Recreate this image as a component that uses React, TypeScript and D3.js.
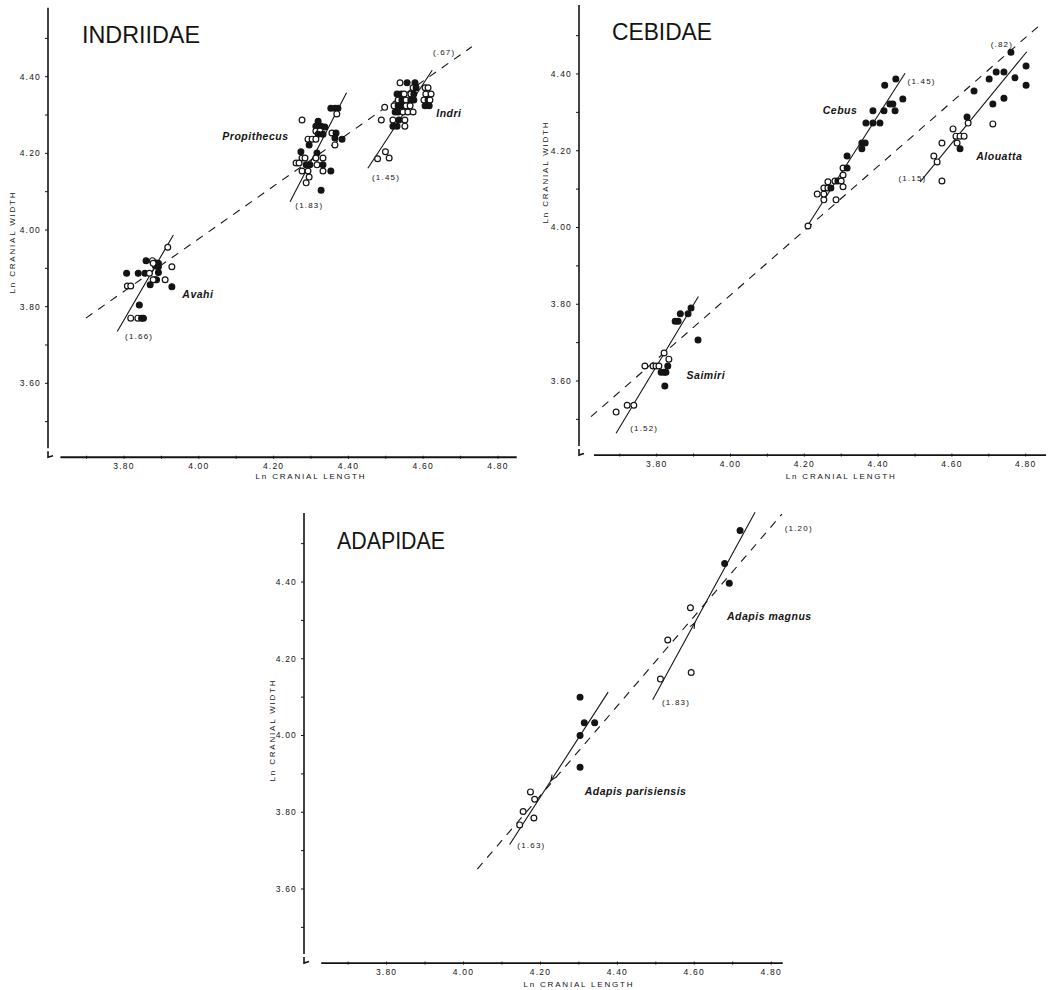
import React from "react";
import * as d3 from "d3";

// each point: [ln cranial length, ln cranial width, 1 = filled / 0 = open]
type Pt = [number, number, number];
type Seg = [number, number, number, number];

const avahi: Pt[] = [
  [3.917, 3.955, 0], [3.859, 3.92, 1], [3.876, 3.92, 0], [3.886, 3.914, 1],
  [3.892, 3.913, 1], [3.884, 3.906, 1], [3.892, 3.904, 1], [3.878, 3.913, 0],
  [3.928, 3.904, 0], [3.807, 3.887, 1], [3.838, 3.887, 1], [3.856, 3.887, 1],
  [3.868, 3.887, 0], [3.892, 3.889, 1], [3.887, 3.87, 1], [3.883, 3.87, 1],
  [3.878, 3.87, 0], [3.91, 3.87, 0], [3.87, 3.857, 1], [3.809, 3.854, 0],
  [3.818, 3.854, 0], [3.928, 3.852, 1], [3.841, 3.804, 1], [3.818, 3.77, 0],
  [3.837, 3.77, 0], [3.847, 3.77, 1], [3.852, 3.77, 1],
];

const propithecus: Pt[] = [
  [4.276, 4.287, 0], [4.319, 4.284, 1], [4.313, 4.271, 1], [4.327, 4.271, 1],
  [4.337, 4.269, 1], [4.353, 4.318, 1], [4.364, 4.318, 1], [4.372, 4.318, 1],
  [4.369, 4.303, 0], [4.313, 4.258, 0], [4.324, 4.258, 0], [4.319, 4.25, 1],
  [4.332, 4.25, 1], [4.292, 4.237, 0], [4.303, 4.237, 0], [4.313, 4.237, 0],
  [4.295, 4.222, 1], [4.356, 4.253, 0], [4.367, 4.253, 1], [4.364, 4.24, 1],
  [4.364, 4.222, 0], [4.383, 4.237, 1], [4.273, 4.204, 1], [4.316, 4.201, 1],
  [4.276, 4.188, 0], [4.284, 4.188, 0], [4.313, 4.188, 0], [4.332, 4.188, 0],
  [4.26, 4.175, 0], [4.268, 4.175, 0], [4.287, 4.17, 1], [4.297, 4.17, 1],
  [4.316, 4.17, 0], [4.332, 4.17, 1], [4.276, 4.154, 0], [4.292, 4.154, 0],
  [4.332, 4.154, 0], [4.353, 4.154, 1], [4.295, 4.138, 0], [4.287, 4.123, 0],
  [4.327, 4.104, 1],
];

const indri: Pt[] = [
  [4.538, 4.384, 0], [4.557, 4.384, 1], [4.578, 4.384, 1],
  [4.573, 4.371, 0], [4.581, 4.371, 1], [4.605, 4.371, 0], [4.613, 4.371, 0],
  [4.53, 4.355, 1], [4.541, 4.355, 1], [4.549, 4.355, 0], [4.567, 4.355, 0],
  [4.575, 4.355, 1], [4.607, 4.355, 0], [4.621, 4.355, 0],
  [4.533, 4.339, 0], [4.543, 4.339, 1], [4.554, 4.339, 0], [4.567, 4.339, 1],
  [4.575, 4.339, 1], [4.602, 4.339, 0], [4.613, 4.339, 1], [4.618, 4.339, 0],
  [4.522, 4.324, 0], [4.533, 4.324, 1], [4.543, 4.324, 1], [4.554, 4.324, 0],
  [4.565, 4.324, 0], [4.605, 4.324, 1], [4.616, 4.324, 1],
  [4.525, 4.308, 1], [4.533, 4.308, 1], [4.546, 4.308, 0], [4.559, 4.308, 0],
  [4.573, 4.308, 0], [4.488, 4.287, 0], [4.519, 4.287, 0], [4.535, 4.287, 1],
  [4.551, 4.287, 0], [4.519, 4.271, 1], [4.53, 4.271, 1], [4.551, 4.271, 0],
  [4.497, 4.32, 0], [4.478, 4.186, 0], [4.499, 4.204, 0], [4.509, 4.188, 0],
];

const saimiri: Pt[] = [
  [3.69, 3.519, 0], [3.72, 3.537, 0], [3.738, 3.537, 0], [3.768, 3.639, 0],
  [3.79, 3.639, 0], [3.798, 3.639, 0], [3.806, 3.639, 0], [3.82, 3.673, 0],
  [3.833, 3.657, 0], [3.83, 3.639, 1], [3.812, 3.623, 1], [3.82, 3.623, 1],
  [3.825, 3.623, 1], [3.822, 3.587, 1], [3.85, 3.756, 1], [3.858, 3.756, 1],
  [3.864, 3.775, 1], [3.885, 3.775, 1], [3.893, 3.79, 1], [3.912, 3.707, 1],
];

const cebus: Pt[] = [
  [4.21, 4.004, 0], [4.235, 4.087, 0], [4.253, 4.072, 0], [4.253, 4.087, 0],
  [4.253, 4.103, 0], [4.264, 4.119, 0], [4.264, 4.103, 0], [4.272, 4.103, 1],
  [4.286, 4.072, 0], [4.283, 4.121, 0], [4.291, 4.121, 1], [4.3, 4.121, 0],
  [4.305, 4.137, 0], [4.305, 4.155, 0], [4.305, 4.106, 0], [4.316, 4.155, 1],
  [4.316, 4.186, 1], [4.356, 4.205, 1], [4.356, 4.22, 1], [4.365, 4.22, 1],
  [4.367, 4.272, 1], [4.386, 4.272, 1], [4.405, 4.272, 1], [4.386, 4.304, 1],
  [4.416, 4.304, 1], [4.446, 4.304, 1], [4.432, 4.322, 1], [4.44, 4.322, 1],
  [4.467, 4.335, 1], [4.418, 4.371, 1], [4.448, 4.387, 1],
];

const alouatta: Pt[] = [
  [4.76, 4.457, 1], [4.701, 4.387, 1], [4.72, 4.405, 1], [4.741, 4.405, 1],
  [4.801, 4.421, 1], [4.771, 4.39, 1], [4.801, 4.371, 1], [4.66, 4.356, 1],
  [4.741, 4.337, 1], [4.711, 4.322, 1], [4.641, 4.288, 1], [4.644, 4.272, 0],
  [4.711, 4.27, 0], [4.603, 4.257, 0], [4.611, 4.238, 0], [4.622, 4.238, 0],
  [4.633, 4.238, 0], [4.614, 4.22, 0], [4.622, 4.205, 1], [4.573, 4.22, 0],
  [4.551, 4.186, 0], [4.56, 4.171, 0], [4.573, 4.121, 0],
];

const adapisParisiensis: Pt[] = [
  [4.303, 4.1, 1], [4.314, 4.033, 1], [4.341, 4.033, 1], [4.303, 4.0, 1],
  [4.303, 3.917, 1], [4.174, 3.853, 0], [4.185, 3.834, 0], [4.155, 3.802, 0],
  [4.183, 3.785, 0], [4.146, 3.767, 0],
];

const adapisMagnus: Pt[] = [
  [4.719, 4.534, 1], [4.679, 4.448, 1], [4.691, 4.397, 1], [4.59, 4.333, 0],
  [4.531, 4.249, 0], [4.512, 4.147, 0], [4.592, 4.164, 0],
];

// fitted lines, [x1, y1, x2, y2]
const avahiLine: Seg = [3.782, 3.735, 3.932, 3.987];
const propithecusLine: Seg = [4.244, 4.074, 4.395, 4.358];
const indriLine: Seg = [4.452, 4.161, 4.624, 4.417];
const indriidaeLine: Seg = [3.698, 3.77, 4.73, 4.478];

const saimiriLine: Seg = [3.69, 3.464, 3.913, 3.82];
const cebusLine: Seg = [4.207, 4.002, 4.473, 4.402];
const alouattaLine: Seg = [4.514, 4.119, 4.803, 4.458];
const cebidaeLine: Seg = [3.622, 3.507, 4.839, 4.528];

const parisiensisLine: Seg = [4.12, 3.716, 4.376, 4.113];
const magnusLine: Seg = [4.492, 4.093, 4.758, 4.582];
const adapidaeLine: Seg = [4.036, 3.652, 4.828, 4.577];

const xTickValues = [3.8, 4.0, 4.2, 4.4, 4.6, 4.8];
const yTickValues = [3.6, 3.8, 4.0, 4.2, 4.4];
const xMinorTicks = [3.7, 3.9, 4.1, 4.3, 4.5, 4.7];
const yMinorTicks = [3.5, 3.7, 3.9, 4.1, 4.3, 4.5];

// text notes placed at data coordinates
type Note = { text: string; at: [number, number]; kind: "name" | "slope" };
const indriidaeNotes: Note[] = [
  { text: "Propithecus", at: [4.063, 4.235], kind: "name" },
  { text: "Indri", at: [4.635, 4.296], kind: "name" },
  { text: "Avahi", at: [3.956, 3.822], kind: "name" },
  { text: "(1.66)", at: [3.803, 3.722], kind: "slope" },
  { text: "(1.83)", at: [4.258, 4.065], kind: "slope" },
  { text: "(1.45)", at: [4.463, 4.139], kind: "slope" },
  { text: "(.67)", at: [4.626, 4.465], kind: "slope" },
];
const cebidaeNotes: Note[] = [
  { text: "Cebus", at: [4.25, 4.297], kind: "name" },
  { text: "(1.45)", at: [4.48, 4.38], kind: "slope" },
  { text: "Alouatta", at: [4.666, 4.177], kind: "name" },
  { text: "(1.15)", at: [4.455, 4.128], kind: "slope" },
  { text: "(.82)", at: [4.705, 4.478], kind: "slope" },
  { text: "Saimiri", at: [3.881, 3.605], kind: "name" },
  { text: "(1.52)", at: [3.728, 3.477], kind: "slope" },
];
const adapidaeNotes: Note[] = [
  { text: "(1.20)", at: [4.835, 4.54], kind: "slope" },
  { text: "Adapis magnus", at: [4.685, 4.3], kind: "name" },
  { text: "(1.83)", at: [4.516, 4.088], kind: "slope" },
  { text: "Adapis parisiensis", at: [4.315, 3.844], kind: "name" },
  { text: "(1.63)", at: [4.14, 3.713], kind: "slope" },
];

const FONT = "'Liberation Sans', Arial, sans-serif";
const INK = "#141414";

type Frame = {
  axisX: number;
  x38: number; x48: number; y36: number; y44: number;
  xMax: number;
  title: [number, number, number]; // x, baseline, width
  xLabelY: number;
  yLabel: [number, number];
};

function arrowHead(x: d3.ScaleLinear<number, number>, y: d3.ScaleLinear<number, number>, seg: Seg, t: number, toStart: boolean) {
  const ax = x(seg[0]), ay = y(seg[1]), bx = x(seg[2]), by = y(seg[3]);
  const px = ax + (bx - ax) * t, py = ay + (by - ay) * t;
  let dx = bx - ax, dy = by - ay;
  const len = Math.hypot(dx, dy);
  dx /= len; dy /= len;
  if (toStart) { dx = -dx; dy = -dy; }
  const bxd = -dx, byd = -dy;
  const wing = (a: number) => [
    px + 6 * (bxd * Math.cos(a) - byd * Math.sin(a)),
    py + 6 * (bxd * Math.sin(a) + byd * Math.cos(a)),
  ];
  const w1 = wing(0.4), w2 = wing(-0.4);
  return `M${w1[0]},${w1[1]}L${px},${py}L${w2[0]},${w2[1]}`;
}

function Panel(props: {
  frame: Frame; title: string; groups: Pt[][]; solid: Seg[]; dashed: Seg[];
  notes: Note[]; arrows?: { seg: Seg; t: number; toStart: boolean }[];
}) {
  const { frame, title, groups, solid, dashed, notes, arrows = [] } = props;
  const x = d3.scaleLinear().domain([3.8, 4.8]).range([frame.x38, frame.x48]);
  const y = d3.scaleLinear().domain([3.6, 4.4]).range([frame.y36, frame.y44]);
  const fmt = d3.format(".2f");
  const ax = frame.axisX;
  const yb = y(3.407), yt = y(4.58);
  const xl = x(3.63), xr = x(frame.xMax);
  const line = d3.line<[number, number]>().x(d => x(d[0])).y(d => y(d[1]));
  const seg = (s: Seg) => line([[s[0], s[1]], [s[2], s[3]]]) || "";

  return (
    <g>
      {/* axes */}
      <line x1={ax} x2={ax} y1={yt} y2={yb - 9} stroke={INK} strokeWidth={1.6} />
      <path d={`M${ax},${yb - 6}L${ax},${yb}L${ax + 5},${yb - 1.5}`} fill="none" stroke={INK} strokeWidth={1.6} />
      <line x1={xl} x2={xr} y1={yb} y2={yb} stroke={INK} strokeWidth={1.8} />
      {yTickValues.concat(yMinorTicks).map(v => (
        <line key={"yt" + v} x1={ax - 3} x2={ax} y1={y(v)} y2={y(v)} stroke={INK} strokeWidth={1} />
      ))}
      {xTickValues.concat(xMinorTicks).map(v => (
        <line key={"xt" + v} x1={x(v)} x2={x(v)} y1={yb - 1.5} y2={yb + 1.5} stroke={INK} strokeWidth={1} />
      ))}
      {yTickValues.map(v => (
        <text key={"yl" + v} x={ax - 7} y={y(v)} dy="0.35em" textAnchor="end" fontSize={8.5}
          letterSpacing={1.2} fill={INK} fontFamily={FONT}>{fmt(v)}</text>
      ))}
      {xTickValues.map(v => (
        <text key={"xl" + v} x={x(v)} y={yb + 11.5} textAnchor="middle" fontSize={8.5}
          letterSpacing={1.2} fill={INK} fontFamily={FONT}>{fmt(v)}</text>
      ))}
      <text x={x(4.3)} y={frame.xLabelY} textAnchor="middle" fontSize={8}
        letterSpacing={1.8} fill={INK} fontFamily={FONT}>Ln CRANIAL LENGTH</text>
      <text transform={`translate(${frame.yLabel[0]},${frame.yLabel[1]}) rotate(-90)`} textAnchor="middle"
        fontSize={8} letterSpacing={1.8} fill={INK} fontFamily={FONT}>Ln CRANIAL WIDTH</text>

      {/* title */}
      <text x={frame.title[0]} y={frame.title[1]} fontSize={24} textLength={frame.title[2]}
        lengthAdjust="spacingAndGlyphs" fill={INK} fontFamily={FONT}>{title}</text>

      {/* fitted lines */}
      {dashed.map((s, i) => (
        <path key={"d" + i} d={seg(s)} stroke={INK} strokeWidth={1.1} strokeDasharray="8,7" fill="none" />
      ))}
      {solid.map((s, i) => (
        <path key={"s" + i} d={seg(s)} stroke={INK} strokeWidth={1.1} fill="none" />
      ))}
      {arrows.map((a, i) => (
        <path key={"a" + i} d={arrowHead(x, y, a.seg, a.t, a.toStart)} stroke={INK} strokeWidth={1.1} fill="none" />
      ))}

      {/* specimens */}
      {groups.map((g, gi) => g.map((p, i) => (
        <circle key={gi + "-" + i} cx={x(p[0])} cy={y(p[1])} r={2.9}
          fill={p[2] ? INK : "#fff"} stroke={INK} strokeWidth={1.2} />
      )))}

      {notes.map((n, i) => n.kind === "name" ? (
        <text key={"n" + i} x={x(n.at[0])} y={y(n.at[1])} fontSize={10.5} fontStyle="italic" fontWeight="bold"
          letterSpacing={0.5} fill={INK} fontFamily={FONT}>{n.text}</text>
      ) : (
        <text key={"n" + i} x={x(n.at[0])} y={y(n.at[1])} dy="0.35em" fontSize={8}
          letterSpacing={1.2} fill={INK} fontFamily={FONT}>{n.text}</text>
      ))}
    </g>
  );
}

export default function App() {
  return (
    <svg width={1063} height={990} style={{ position: "absolute", left: 0, top: 0, background: "#fff" }}>
      <rect width={1063} height={990} fill="#fff" />
      <Panel
        title="INDRIIDAE"
        frame={{ axisX: 48, x38: 124, x48: 498, y36: 383.3, y44: 76.7, xMax: 4.85, title: [82, 43, 118], xLabelY: 479, yLabel: [15, 242] }}
        groups={[avahi, propithecus, indri]}
        solid={[avahiLine, propithecusLine, indriLine]}
        dashed={[indriidaeLine]}
        notes={indriidaeNotes}
      />
      <Panel
        title="CEBIDAE"
        frame={{ axisX: 579, x38: 656.7, x48: 1025.7, y36: 381, y44: 74, xMax: 4.855, title: [612, 40, 100], xLabelY: 479, yLabel: [548, 172] }}
        groups={[saimiri, cebus, alouatta]}
        solid={[saimiriLine, cebusLine, alouattaLine]}
        dashed={[cebidaeLine]}
        notes={cebidaeNotes}
      />
      <Panel
        title="ADAPIDAE"
        frame={{ axisX: 304, x38: 386.6, x48: 771.2, y36: 889, y44: 582, xMax: 4.83, title: [337, 549, 108], xLabelY: 987, yLabel: [275, 730] }}
        groups={[adapisParisiensis, adapisMagnus]}
        solid={[parisiensisLine, magnusLine]}
        dashed={[adapidaeLine]}
        notes={adapidaeNotes}
        arrows={[
          { seg: parisiensisLine, t: 0.42, toStart: true },
          { seg: magnusLine, t: 0.41, toStart: false },
        ]}
      />
    </svg>
  );
}
